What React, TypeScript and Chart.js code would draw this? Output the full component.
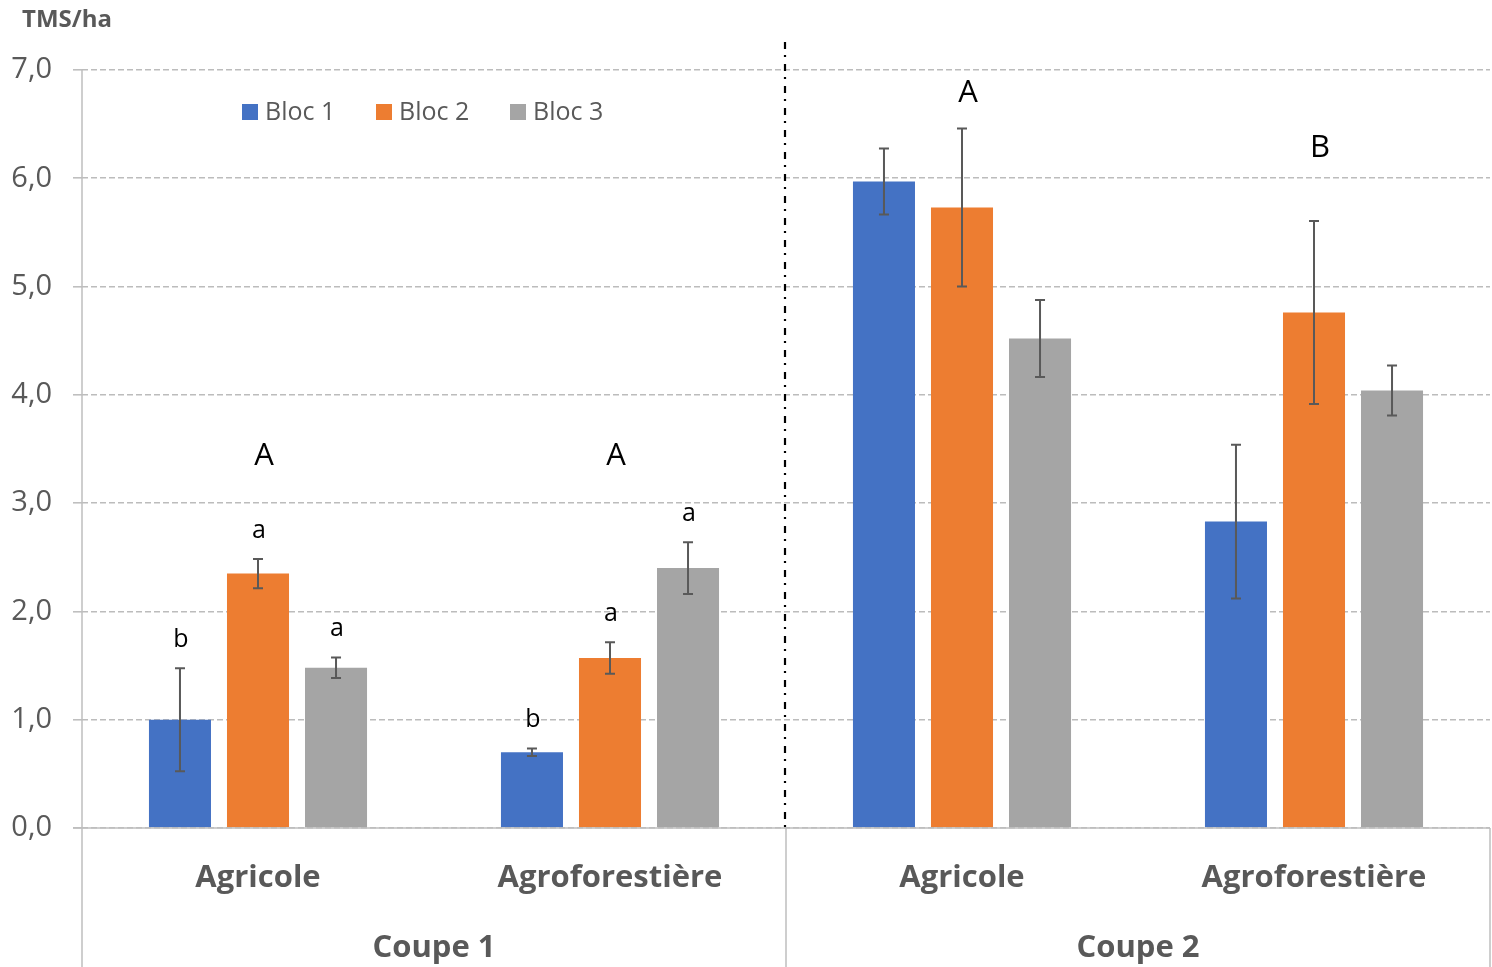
import React, { useEffect, useRef } from "react";
import { Chart, registerables } from "chart.js";
Chart.register(...registerables);

const categories = ["Agricole", "Agroforestière", "Agricole", "Agroforestière"];
const groups = ["Coupe 1", "Coupe 2"];
const seriesNames = ["Bloc 1", "Bloc 2", "Bloc 3"];
const bloc1 = [1.0, 0.7, 5.97, 2.83];
const bloc2 = [2.35, 1.57, 5.73, 4.76];
const bloc3 = [1.48, 2.4, 4.52, 4.04];
const bloc1Err = [0.475, 0.035, 0.305, 0.71];
const bloc2Err = [0.135, 0.145, 0.73, 0.845];
const bloc3Err = [0.095, 0.24, 0.355, 0.23];
const bloc1Letters = ["b", "b", "", ""];
const bloc2Letters = ["a", "a", "", ""];
const bloc3Letters = ["a", "a", "", ""];
const groupLetters = ["A", "A", "A", "B"];
const groupLetterLevels = [3.35, 3.35, 6.7, 6.2];
const yMin = 0;
const yMax = 7;
const yStep = 1;
const yAxisTitle = "TMS/ha";

const colors = ["#4472C4", "#ED7D31", "#A5A5A5"];
const FONT = "'Open Sans', sans-serif";
const TEXT = "#595959";
const AXIS = "#bfbfbf";

const errs = [bloc1Err, bloc2Err, bloc3Err];
const letters = [bloc1Letters, bloc2Letters, bloc3Letters];

const customPlugin = {
  id: "custom",
  afterDatasetsDraw(chart: any) {
    const { ctx, chartArea: ca, scales } = chart;
    const x = scales.x;
    const y = scales.y;
    const H = chart.height;
    ctx.save();
    // axis lines
    ctx.strokeStyle = AXIS;
    ctx.lineWidth = 1.5;
    ctx.setLineDash([]);
    ctx.beginPath();
    ctx.moveTo(ca.left, ca.top);
    ctx.lineTo(ca.left, H);
    ctx.moveTo(ca.left - 9, ca.bottom);
    ctx.lineTo(ca.right, ca.bottom);
    ctx.moveTo(ca.right, ca.bottom);
    ctx.lineTo(ca.right, H);
    const mid = (x.getPixelForValue(1) + x.getPixelForValue(2)) / 2;
    ctx.moveTo(mid, ca.bottom);
    ctx.lineTo(mid, H);
    ctx.stroke();
    // dash-dot separator
    ctx.strokeStyle = "#000";
    ctx.lineWidth = 2.2;
    ctx.setLineDash([7, 6, 2, 7]);
    ctx.beginPath();
    ctx.moveTo(mid - 1, ca.top - 28);
    ctx.lineTo(mid - 1, ca.bottom);
    ctx.stroke();
    ctx.setLineDash([]);

    // error bars
    ctx.strokeStyle = "#595959";
    ctx.lineWidth = 2;
    chart.data.datasets.forEach((ds: any, di: number) => {
      const meta = chart.getDatasetMeta(di);
      meta.data.forEach((el: any, i: number) => {
        const v = ds.data[i];
        const e = errs[di][i];
        const yt = y.getPixelForValue(v + e);
        const yb = y.getPixelForValue(v - e);
        const cx = el.x;
        ctx.beginPath();
        ctx.moveTo(cx, yt);
        ctx.lineTo(cx, yb);
        ctx.moveTo(cx - 5, yt);
        ctx.lineTo(cx + 5, yt);
        ctx.moveTo(cx - 5, yb);
        ctx.lineTo(cx + 5, yb);
        ctx.stroke();
        const l = letters[di][i];
        if (l) {
          ctx.fillStyle = "#000";
          ctx.font = `25px ${FONT}`;
          ctx.textAlign = "center";
          ctx.textBaseline = "alphabetic";
          ctx.fillText(l, cx + 1, yt - 21);
        }
      });
    });
    // group letters
    ctx.fillStyle = "#000";
    ctx.font = `31px ${FONT}`;
    ctx.textAlign = "center";
    ctx.textBaseline = "alphabetic";
    groupLetters.forEach((g, i) => {
      ctx.fillText(g, x.getPixelForValue(i) + 6, y.getPixelForValue(groupLetterLevels[i]));
    });
    ctx.restore();
  },
  afterDraw(chart: any) {
    const { ctx, chartArea: ca, scales } = chart;
    const x = scales.x;
    ctx.save();
    ctx.fillStyle = TEXT;
    ctx.textAlign = "center";
    ctx.textBaseline = "middle";
    ctx.font = `bold 31px ${FONT}`;
    categories.forEach((c, i) => {
      ctx.fillText(c, x.getPixelForValue(i), ca.bottom + 50);
    });
    groups.forEach((g, gi) => {
      const cx = (x.getPixelForValue(gi * 2) + x.getPixelForValue(gi * 2 + 1)) / 2;
      ctx.fillText(g, cx, ca.bottom + 120);
    });
    // y title
    ctx.font = `bold 24px ${FONT}`;
    ctx.textAlign = "left";
    ctx.fillText(yAxisTitle, 22, 20);
    // legend
    ctx.font = `25px ${FONT}`;
    seriesNames.forEach((s, i) => {
      const lx = ca.left + 160 + i * 134;
      const ly = ca.top + 42;
      ctx.fillStyle = colors[i];
      ctx.fillRect(lx, ly - 8, 16, 16);
      ctx.fillStyle = TEXT;
      ctx.textAlign = "left";
      ctx.fillText(s, lx + 23, ly + 1);
    });
    ctx.restore();
  },
};

export default function App() {
  const ref = useRef<HTMLCanvasElement>(null);
  useEffect(() => {
    document.body.style.margin = "0";
    const c = ref.current!;
    const chart = new Chart(c, {
      type: "bar",
      data: {
        labels: categories,
        datasets: [bloc1, bloc2, bloc3].map((d, i) => ({
          label: seriesNames[i],
          data: d,
          backgroundColor: colors[i],
          borderWidth: 0,
          barPercentage: 0.795,
          categoryPercentage: 0.665,
        })),
      },
      options: {
        responsive: false,
        animation: false,
        devicePixelRatio: 1,
        layout: { padding: { top: 70, right: 2, left: 0, bottom: 0 } },
        plugins: { legend: { display: false }, tooltip: { enabled: false }, title: { display: false } },
        scales: {
          x: {
            type: "category",
            grid: { display: false },
            border: { display: false },
            ticks: { display: false },
            afterFit: (s: any) => { s.height = 139; },
          },
          y: {
            min: yMin,
            max: yMax,
            ticks: {
              stepSize: yStep,
              color: TEXT,
              font: { family: FONT, size: 29 },
              padding: 21,
              callback: (v: any) => Number(v).toFixed(1).replace(".", ","),
            },
            grid: {
              color: "#bcbcbc",
              lineWidth: 1.6,
              tickLength: 9,
              tickColor: AXIS,
              tickBorderDash: [],
            },
            border: { display: false, dash: [6, 3] },
            afterFit: (s: any) => { s.width = 82; },
          },
        },
      },
      plugins: [customPlugin],
    } as any);
    return () => chart.destroy();
  }, []);
  return (
    <div style={{ position: "absolute", left: 0, top: 0, width: 1492, height: 967 }}>
      <canvas ref={ref} width={1492} height={967} style={{ display: "block" }} />
    </div>
  );
}
